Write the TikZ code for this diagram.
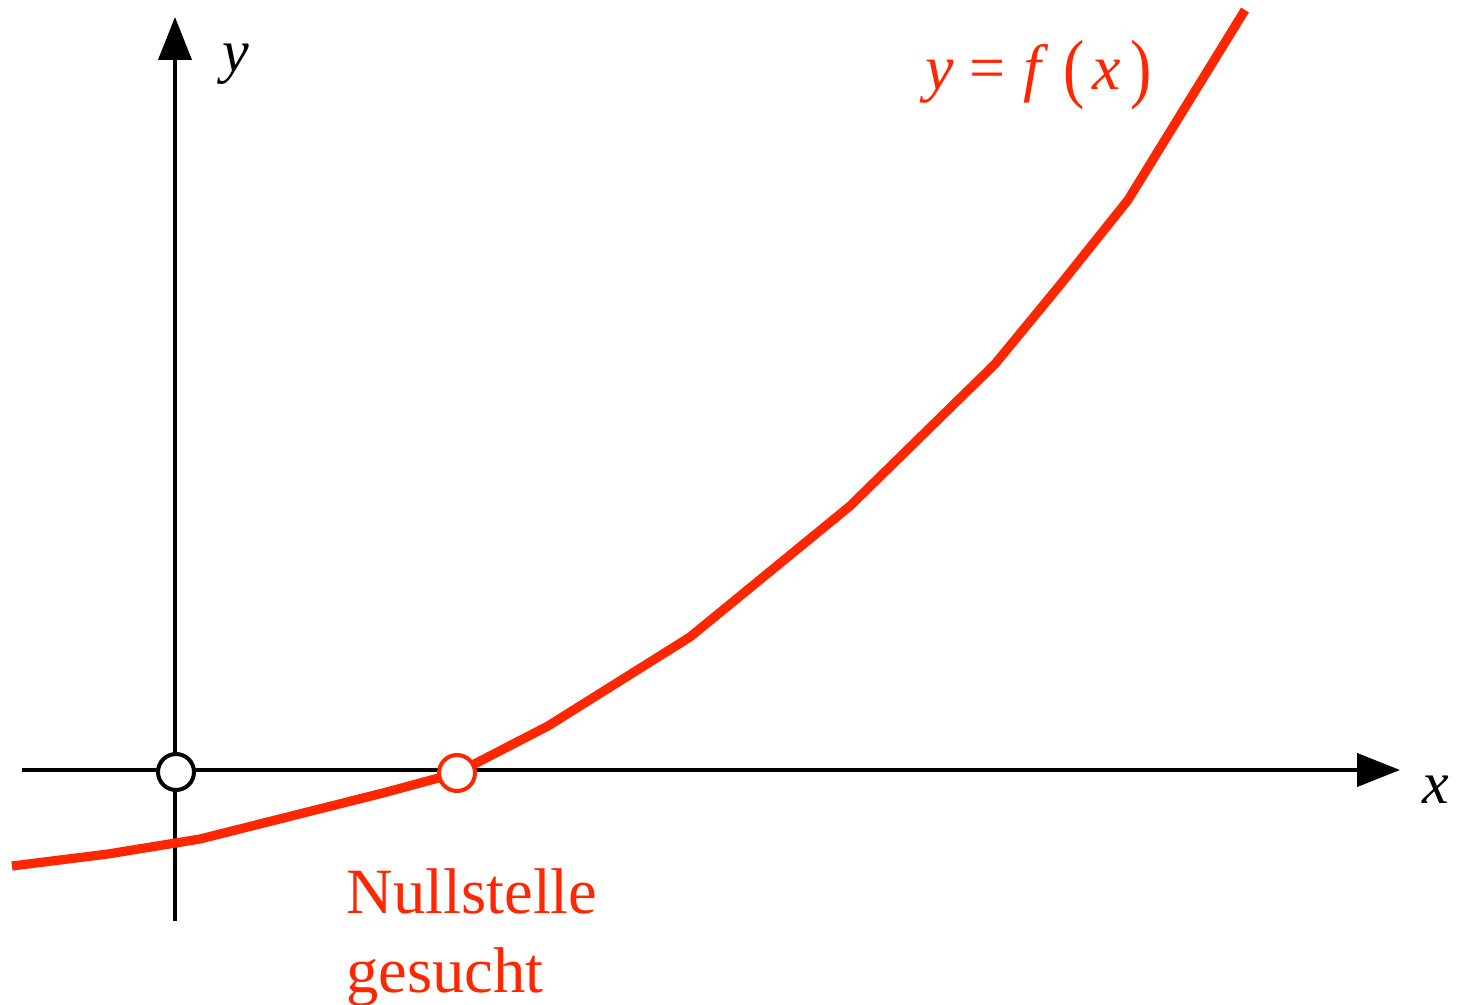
\documentclass[tikz,border=0pt]{standalone}
\usepackage{fontspec}
\setmainfont{Liberation Serif}
\usetikzlibrary{arrows.meta}
\definecolor{fred}{RGB}{255,38,0}
\newcommand{\bigpar}[1]{\raisebox{-0.06em}{\scalebox{1}[1.2]{#1}}}
\begin{document}
\begin{tikzpicture}[x=0.5pt,y=-0.5pt,
  axis/.style={line width=2pt,-{Triangle[length=21.5pt,width=16.5pt]}},
  curve/.style={line width=4.6pt,fred,line join=round},
  pt/.style={circle,draw,fill=white,line width=2pt,minimum size=18pt,inner sep=0pt},
  lbl/.style={anchor=base west,inner sep=0pt,font=\fontsize{30}{36}\selectfont}]
\useasboundingbox (0,0) rectangle (1462,1005);
\coordinate (xs) at (22,770);
\coordinate (xe) at (1400,770);
\coordinate (ys) at (175,921);
\coordinate (ye) at (175,17);
\draw[axis] (xs) -- (xe);
\draw[axis] (ys) -- (ye);
\draw[curve] (12,866) -- (108,854) -- (200,839) -- (383,793) -- (457,773) -- (548,726) -- (690,637) -- (850,506) -- (995,364) -- (1060,285) -- (1128,200) -- (1245,10);
\node[pt] (o) at (176,772) {};
\node[pt,draw=fred] (z) at (457,773) {};
\node[lbl] (ly) at (222,72) {\textit{y}};
\node[lbl] (lx) at (1422,803) {\textit{x}};
\node[lbl,text=fred,font=\fontsize{32}{38}\selectfont] (lf) at (925,90) {\textit{y}\hspace{8pt}=\hspace{9pt}\textit{f}\hspace{7pt}\bigpar{(}\hspace{4pt}\textit{x}\hspace{5pt}\bigpar{)}};
\node[lbl,text=fred,font=\fontsize{32.3}{39.5}\selectfont,align=left,anchor=north west] (ln) at (346,868) {Nullstelle\\gesucht};
\end{tikzpicture}
\end{document}
